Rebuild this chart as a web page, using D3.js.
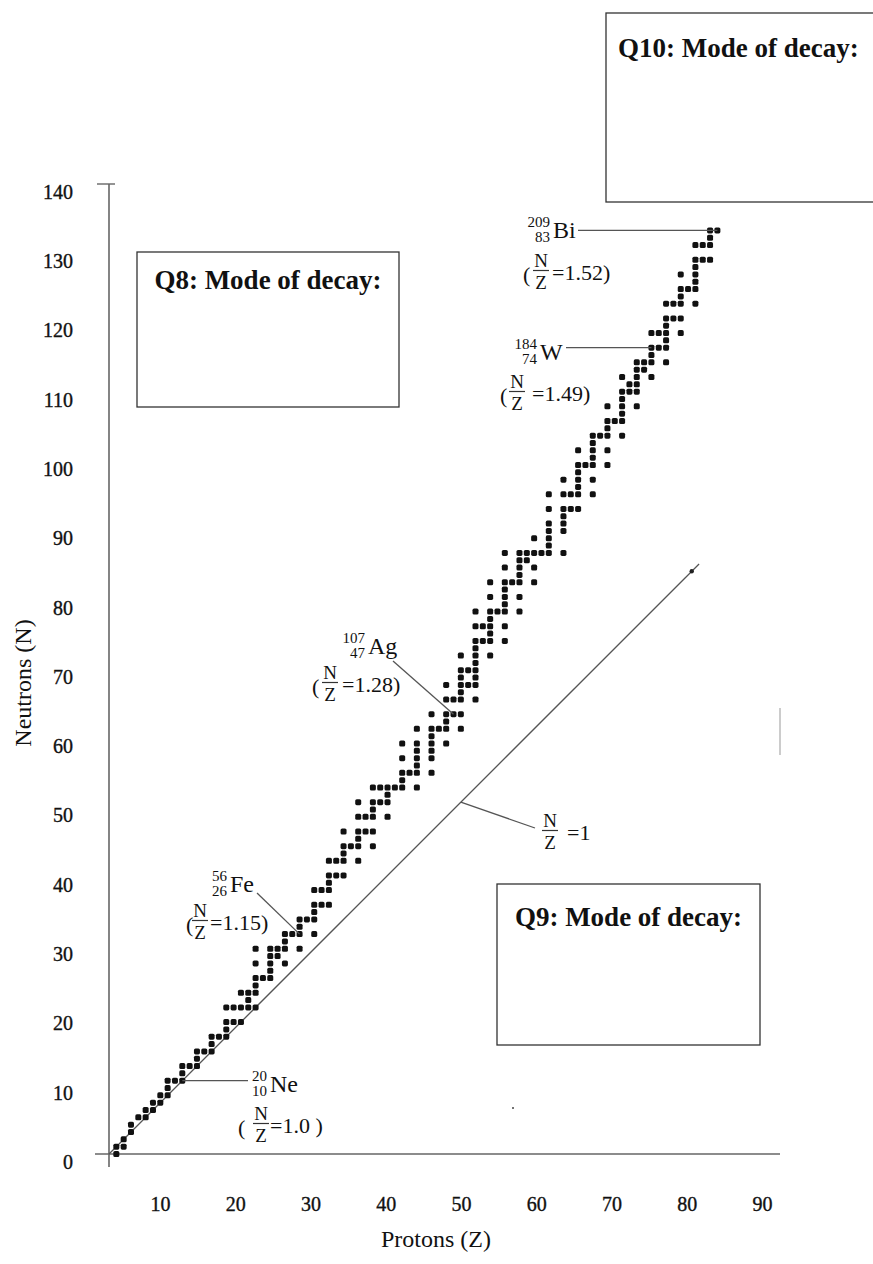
<!DOCTYPE html>
<html>
<head>
<meta charset="utf-8">
<script src="https://cdn.jsdelivr.net/npm/d3@7"></script>
<style>
body { margin: 0; background: #fff; }
text { font-family: "Liberation Serif", "DejaVu Serif", serif; fill: #111; }
</style>
</head>
<body>
<div id="chart"></div>
<script>
// stable nuclides: atomic number Z and the neutron numbers N of its stable isotopes
var protons = [];
for (var i = 1; i <= 83; i++) protons.push(i);
var neutrons = [
  [0,1],[1,2],[3,4],[5],[5,6],[6,7],[7,8],[8,9,10],[10],[10,11,12],
  [12],[12,13,14],[14],[14,15,16],[16],[16,17,18,20],[18,20],[18,20,22],[20,21,22],[20,22,23,24,26,28],
  [24],[24,25,26,27,28],[27,28],[26,28,29,30],[30],[28,30,31,32],[32],[30,32,33,34,36],[34,36],[34,36,37,38,40],
  [38,40],[38,40,41,42,44],[42],[40,42,43,44,46,48],[44,46],[42,44,46,47,48,50],[48,50],[46,48,49,50],[50],[50,51,52,54,56],
  [52],[50,52,53,54,55,56,58],[],[52,54,55,56,57,58,60],[58],[56,58,59,60,62,64],[60,62],[58,60,62,63,64,65,66,68],[64,66],[62,64,65,66,67,68,69,70,72,74],
  [70,72],[68,70,71,72,73,74,76,78],[74],[70,72,74,75,76,77,78,80,82],[78],[74,76,78,79,80,81,82],[81,82],[78,80,82,84],[82],[82,83,84,85,86,88,90],
  [],[82,85,86,87,88,90,92],[88,90],[88,90,91,92,93,94,96],[94],[90,92,94,95,96,97,98],[98],[94,96,98,99,100,102],[100],[98,100,101,102,103,104,106],
  [104,105],[102,104,105,106,107,108],[107,108],[106,108,109,110,112],[110,112],[108,110,111,112,113,114,116],[114,116],[112,114,116,117,118,120],[118],[116,118,119,120,121,122,124],
  [122,124],[122,124,125,126],[126]
];
var yTicks = [0,10,20,30,40,50,60,70,80,90,100,110,120,130,140];
var xTicks = [10,20,30,40,50,60,70,80,90];
var lineEnd = 80.5;   // N = Z line drawn up to here
var marked = [
  {sym: "Bi", A: 209, Z: 83, ratio: "1.52"},
  {sym: "W",  A: 184, Z: 74, ratio: "1.49"},
  {sym: "Ag", A: 107, Z: 47, ratio: "1.28"},
  {sym: "Fe", A: 56,  Z: 26, ratio: "1.15"},
  {sym: "Ne", A: 20,  Z: 10, ratio: "1.0"}
];
var questions = ["Q8: Mode of decay:", "Q9: Mode of decay:", "Q10: Mode of decay:"];

var points = [];
protons.forEach(function(z, i) {
  neutrons[i].forEach(function(n) { points.push({z: z, n: n}); });
});

var W = 873, H = 1264;
var svg = d3.select("#chart").append("svg")
    .attr("width", W)
    .attr("height", H);

var x = d3.scaleLinear().domain([0, 90]).range([109, 109 + 90 * 7.33]);
var y = d3.scaleLinear().domain([0, 140]).range([1154, 1154 - 140 * 7.33]);
// the printed tick labels do not sit on the data scale
var yLab = d3.scaleLinear().domain([0, 140]).range([1162, 192]);
var xLab = d3.scaleLinear().domain([10, 90]).range([160, 762]);

// axis lines
svg.append("line").attr("x1", 109).attr("y1", 184).attr("x2", 109).attr("y2", 1167)
    .attr("stroke", "#666").attr("stroke-width", 1.6);
svg.append("line").attr("x1", 97).attr("y1", 184).attr("x2", 115).attr("y2", 184)
    .attr("stroke", "#666").attr("stroke-width", 1.4);
svg.append("line").attr("x1", 95).attr("y1", 1154).attr("x2", 780).attr("y2", 1154)
    .attr("stroke", "#666").attr("stroke-width", 1.6);

var yAxis = svg.append("g")
    .attr("transform", "translate(73,0)")
    .call(d3.axisLeft(yLab).tickValues(yTicks).tickSize(0).tickPadding(0));
var xAxis = svg.append("g")
    .attr("transform", "translate(0,1197)")
    .call(d3.axisBottom(xLab).tickValues(xTicks).tickSize(0).tickPadding(0));
[yAxis, xAxis].forEach(function(a) {
  a.select(".domain").remove();
  a.selectAll("text").style("font-size", "20px")
      .style("font-family", "'Liberation Serif', serif").attr("fill", "#111")
      .attr("stroke", "#111").attr("stroke-width", 0.35);
});

svg.append("text")
    .attr("transform", "translate(31,683) rotate(-90)")
    .attr("text-anchor", "middle")
    .style("font-size", "24px")
    .text("Neutrons (N)");
svg.append("text")
    .attr("x", 436).attr("y", 1247)
    .attr("text-anchor", "middle")
    .style("font-size", "24px")
    .text("Protons (Z)");

// N = Z line
svg.append("line")
    .attr("x1", x(0)).attr("y1", y(0))
    .attr("x2", x(lineEnd)).attr("y2", y(lineEnd))
    .attr("stroke", "#555").attr("stroke-width", 1.3);
svg.append("circle")
    .attr("cx", x(lineEnd - 1)).attr("cy", y(lineEnd - 1)).attr("r", 2.2)
    .attr("fill", "#222");

// stable nuclides
svg.append("g").selectAll("rect")
    .data(points)
    .enter().append("rect")
    .attr("x", function(d) { return x(d.z) - 3; })
    .attr("y", function(d) { return y(d.n) - 3; })
    .attr("width", 6)
    .attr("height", 6)
    .attr("rx", 1.6)
    .attr("fill", "#111");

// label layout, by symbol
var layout = {
  Bi: {sx: 553, sb: 238, lx: 578, ly: null, x0: 552, b: 280, fx: 11, px: 29},
  W:  {sx: 540, sb: 360, lx: 566, ly: null, x0: 532, b: 401, fx: 15, px: 32},
  Ag: {sx: 368, sb: 654, lx: 393, ly: 661, x0: 342, b: 692, fx: 12, px: 30},
  Fe: {sx: 230, sb: 892, lx: 257, ly: 893, x0: 210, b: 930, fx: 10, px: 24},
  Ne: {sx: 270, sb: 1092, lx: 248, ly: null, x0: 270, b: 1133, fx: 9, px: 32}
};

function fraction(g, cx, b) {
  g.append("text").attr("x", cx).attr("y", b - 13).attr("text-anchor", "middle")
      .style("font-size", "19px").text("N");
  g.append("line").attr("x1", cx - 8).attr("x2", cx + 8)
      .attr("y1", b - 9.5).attr("y2", b - 9.5)
      .attr("stroke", "#333").attr("stroke-width", 1.2);
  g.append("text").attr("x", cx).attr("y", b + 9).attr("text-anchor", "middle")
      .style("font-size", "19px").text("Z");
}

var ann = svg.append("g");
marked.forEach(function(m) {
  var L = layout[m.sym];
  var ex = x(m.Z), ey = y(m.A - m.Z);
  ann.append("line")
      .attr("x1", L.lx).attr("y1", L.ly === null ? ey : L.ly)
      .attr("x2", ex).attr("y2", ey)
      .attr("stroke", "#555").attr("stroke-width", 1.3);
  ann.append("text").attr("x", L.sx - 3).attr("y", L.sb - 11)
      .attr("text-anchor", "end").style("font-size", "15px").text(m.A);
  ann.append("text").attr("x", L.sx - 3).attr("y", L.sb + 4)
      .attr("text-anchor", "end").style("font-size", "15px").text(m.Z);
  ann.append("text").attr("x", L.sx).attr("y", L.sb)
      .style("font-size", "24px").text(m.sym);
  var spaced = m.sym === "Ne";
  ann.append("text").attr("x", L.x0 - L.px).attr("y", L.b + 2)
      .style("font-size", "22px").text("(");
  fraction(ann, L.x0 - L.fx, L.b);
  ann.append("text").attr("x", L.x0).attr("y", L.b)
      .style("font-size", "22px").text("=" + m.ratio + (spaced ? "\u00a0)" : ")"));
});

// N/Z = 1 label
ann.append("line")
    .attr("x1", 535).attr("y1", 828)
    .attr("x2", x(48)).attr("y2", y(48))
    .attr("stroke", "#555").attr("stroke-width", 1.3);
fraction(ann, 550, 840);
ann.append("text").attr("x", 567).attr("y", 840)
    .style("font-size", "22px").text("=1");

// question boxes
var boxes = [
  {x: 137, y: 252, w: 262, h: 155, tb: 289},
  {x: 497, y: 884, w: 263, h: 161, tb: 926},
  {x: 606, y: 13, w: 280, h: 189, tb: 57}
];
boxes.forEach(function(b, i) {
  svg.append("rect")
      .attr("x", b.x).attr("y", b.y).attr("width", b.w).attr("height", b.h)
      .attr("fill", "none").attr("stroke", "#333").attr("stroke-width", 1.3);
  svg.append("text")
      .attr("x", i === 2 ? b.x + 12 : b.x + b.w / 2)
      .attr("y", b.tb)
      .attr("text-anchor", i === 2 ? "start" : "middle")
      .style("font-size", "27px").style("font-weight", "bold")
      .text(questions[i]);
});

// scan specks
svg.append("circle").attr("cx", 513).attr("cy", 1108).attr("r", 1).attr("fill", "#444");
svg.append("line").attr("x1", 780).attr("y1", 708).attr("x2", 780).attr("y2", 755)
    .attr("stroke", "#aaa").attr("stroke-width", 1.2);
</script>
</body>
</html>
